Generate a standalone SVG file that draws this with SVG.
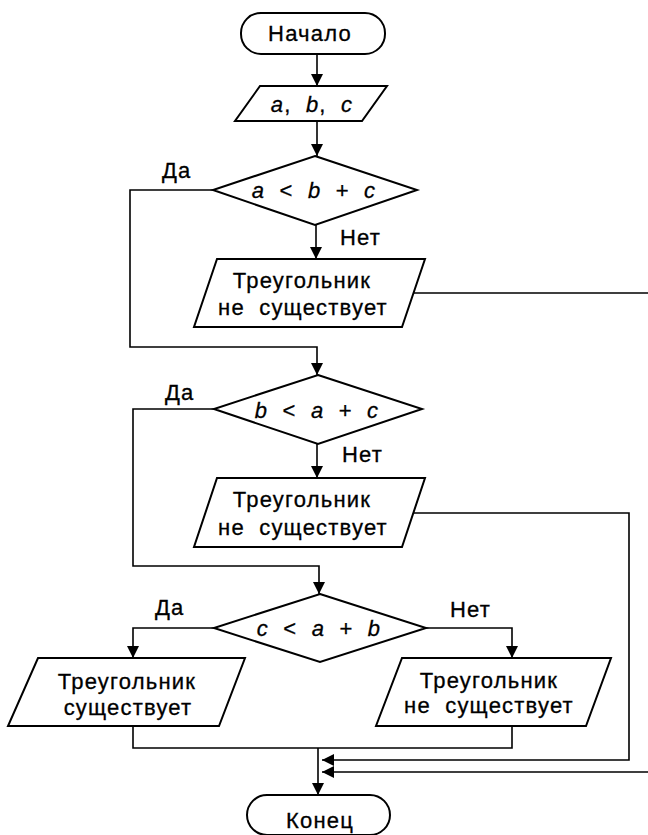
<svg xmlns="http://www.w3.org/2000/svg" width="648" height="835" viewBox="0 0 648 835">
<style>
.shape{fill:#fff;stroke:#000;stroke-width:2}
.conn{fill:none;stroke:#000;stroke-width:1.6}
text{font-family:"Liberation Sans",Arial,sans-serif;font-size:22px;letter-spacing:1.2px;fill:#000;stroke:#000;stroke-width:0.3}
.c{text-anchor:middle}
.i{font-style:italic}
.f{word-spacing:7px}
</style>
<defs>
<marker id="arr" viewBox="0 0 12 12" refX="12" refY="6" markerWidth="12" markerHeight="12" markerUnits="userSpaceOnUse" orient="auto">
<path d="M0,0 L12,6 L0,12 z" fill="#000"/>
</marker>
</defs>
<rect width="648" height="835" fill="#fff"/>
<g id="connectors">
<path class="conn" d="M317,54 V86" marker-end="url(#arr)"/>
<path class="conn" d="M317,121 V156" marker-end="url(#arr)"/>
<path class="conn" d="M213,190 H130 V347 H317 V375" marker-end="url(#arr)"/>
<path class="conn" d="M316,225 V259" marker-end="url(#arr)"/>
<path class="conn" d="M413,293 H652 V772 H322" marker-end="url(#arr)"/>
<path class="conn" d="M214,409 H133 V566 H319 V594" marker-end="url(#arr)"/>
<path class="conn" d="M317,444 V478" marker-end="url(#arr)"/>
<path class="conn" d="M413,513 H629 V760 H322" marker-end="url(#arr)"/>
<path class="conn" d="M214,628 H133 V658" marker-end="url(#arr)"/>
<path class="conn" d="M426,628 H512 V658" marker-end="url(#arr)"/>
<path class="conn" d="M133,726 V748 H512 V726"/>
<path class="conn" d="M318,748 V795" marker-end="url(#arr)"/>
</g>
<g id="start">
<rect class="shape" x="241" y="13" width="144" height="41" rx="20"/>
<text class="c" x="310" y="41">Начало</text>
</g>
<g id="input">
<polygon class="shape" points="260,86 387,86 362,121 235,121"/>
<text class="c f" x="312" y="112"><tspan class="i">a</tspan>, <tspan class="i">b</tspan>, <tspan class="i">c</tspan></text>
</g>
<g id="cond1">
<polygon class="shape" points="315,156 417,190 315,225 213,190"/>
<text class="c f" x="314" y="198"><tspan class="i">a</tspan> &lt; <tspan class="i">b</tspan> + <tspan class="i">c</tspan></text>
<text x="162" y="178">Да</text>
<text x="340" y="245">Нет</text>
</g>
<g id="out1">
<polygon class="shape" points="217,259 425,259 402,327 194,327"/>
<text class="c" x="302" y="288">Треугольник</text>
<text class="c f" x="303" y="315">не существует</text>
</g>
<g id="cond2">
<polygon class="shape" points="318,375 422,409 318,444 214,409"/>
<text class="c f" x="317" y="418"><tspan class="i">b</tspan> &lt; <tspan class="i">a</tspan> + <tspan class="i">c</tspan></text>
<text x="165" y="400">Да</text>
<text x="342" y="462">Нет</text>
</g>
<g id="out2">
<polygon class="shape" points="217,478 425,478 402,547 194,547"/>
<text class="c" x="302" y="507">Треугольник</text>
<text class="c f" x="303" y="535">не существует</text>
</g>
<g id="cond3">
<polygon class="shape" points="320,594 426,628 320,662 214,628"/>
<text class="c f" x="319" y="636"><tspan class="i">c</tspan> &lt; <tspan class="i">a</tspan> + <tspan class="i">b</tspan></text>
<text x="155" y="615">Да</text>
<text x="450" y="617">Нет</text>
</g>
<g id="yes">
<polygon class="shape" points="38,658 245,658 219,726 8,726"/>
<text class="c" x="127" y="689">Треугольник</text>
<text class="c" x="128" y="715">существует</text>
</g>
<g id="no">
<polygon class="shape" points="402,658 611,658 586,726 376,726"/>
<text class="c" x="489" y="688">Треугольник</text>
<text class="c f" x="489" y="713">не существует</text>
</g>
<g id="end">
<rect class="shape" x="247" y="795" width="143" height="40" rx="20"/>
<text class="c" x="320" y="828">Конец</text>
</g>
</svg>
